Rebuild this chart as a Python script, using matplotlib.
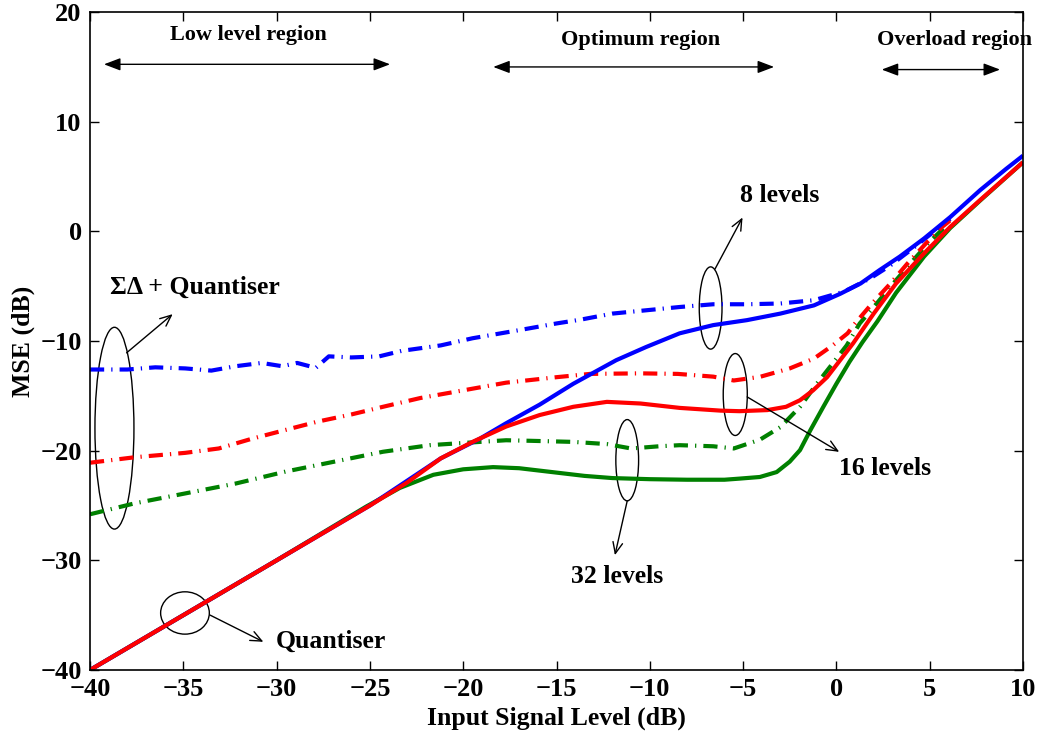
import matplotlib
matplotlib.use("Agg")
import matplotlib.pyplot as plt
from matplotlib.patches import Ellipse

plt.rcParams['font.family'] = ['Liberation Serif', 'DejaVu Serif']
plt.rcParams['font.weight'] = 'bold'

# Quantiser alone (solid lines)
q8_x = [-40, -30, -25, -21.2, -19.1, -17.7, -15.9, -14.1, -11.8, -10.2, -8.4, -6.6, -4.8,
        -3.0, -1.2, 0.2, 1.3, 2.3, 3.4, 4.7, 6.1, 7.7, 9.1, 10]
q8_y = [-40, -30, -25, -20.7, -18.9, -17.5, -15.8, -13.9, -11.75, -10.55, -9.3, -8.55, -8.1,
        -7.5, -6.75, -5.7, -4.75, -3.55, -2.3, -0.65, 1.3, 3.75, 5.7, 6.9]

q16_x = [-40, -30, -25, -23, -21.2, -19.5, -17.7, -15.9, -14.1, -12.3, -10.5, -8.4, -6.2,
         -5.2, -3.7, -2.7, -1.95, -1.25, -0.5, 0.2, 0.9, 2.0, 3.2, 4.7, 6.1, 7.7, 9.1, 10]
q16_y = [-40, -30, -25, -22.9, -20.7, -19.2, -17.8, -16.75, -16.0, -15.55, -15.7, -16.1, -16.35,
         -16.4, -16.3, -16.0, -15.4, -14.5, -13.3, -11.75, -10.2, -7.5, -4.75, -2.0, 0.4, 2.85,
         4.95, 6.3]

q32_x = [-40, -30, -25.2, -23.4, -21.6, -20.0, -18.4, -17.0, -15.5, -13.5, -12.0, -10.0, -8.0,
         -6.0, -5.2, -4.1, -3.2, -2.5, -1.95, -1.4, -0.7, 0.0, 0.7, 1.4, 2.2, 3.2, 4.7, 6.1,
         7.7, 10]
q32_y = [-40, -30, -25.1, -23.4, -22.2, -21.7, -21.5, -21.6, -21.9, -22.3, -22.5, -22.6, -22.65,
         -22.65, -22.55, -22.4, -21.95, -21.0, -19.95, -18.15, -16.0, -13.9, -11.9, -10.1, -8.2,
         -5.6, -2.3, 0.3, 2.8, 6.3]

# Sigma-delta + quantiser (dash-dot lines)
sd8_x = [-40, -38, -36.5, -34.9, -33.5, -32.2, -30.8, -29.7, -28.9, -27.9, -27.2, -26,
         -24.5, -23.3, -21.2, -19.5, -16.8, -15.0, -13.7, -12.0, -10.2, -8.4, -6.6, -4.8,
         -3.0, -1.2, 0.4, 1.8, 2.9, 4.1, 5.2, 6.1]
sd8_y = [-12.6, -12.6, -12.4, -12.5, -12.7, -12.3, -12.0, -12.3, -12.0, -12.45, -11.4, -11.5,
         -11.4, -10.9, -10.4, -9.75, -8.95, -8.4, -8.05, -7.5, -7.2, -6.9, -6.65, -6.65,
         -6.58, -6.28, -5.5, -4.3, -3.1, -1.55, -0.05, 1.15]

sd16_x = [-40, -37.6, -34.9, -33.1, -31.3, -29.5, -27.8, -26.0, -24.3, -22.3, -20.0, -17.7,
          -15.0, -13.2, -10.5, -8.5, -6.6, -5.5, -4.1, -2.5, -1.2, -0.2, 0.6, 1.0, 1.9, 2.9,
          3.8, 4.8, 5.7, 6.1]
sd16_y = [-21.1, -20.6, -20.2, -19.8, -18.9, -18.1, -17.35, -16.7, -16.0, -15.2, -14.5, -13.8,
          -13.3, -13.0, -12.95, -13.0, -13.25, -13.6, -13.27, -12.5, -11.6, -10.4, -9.3, -8.4,
          -6.6, -4.75, -2.95, -1.1, 0.45, 1.0]

sd32_x = [-40, -37.6, -34.9, -32.2, -29.5, -26.9, -24.3, -21.8, -19.1, -17.7, -16.4, -14.1,
          -12.3, -11.0, -9.5, -8.4, -6.6, -5.5, -4.1, -3.0, -1.95, -1.05, -0.2, 0.55, 1.25,
          2.15, 3.05, 3.95, 5.0, 6.0]
sd32_y = [-25.8, -24.8, -23.9, -23.0, -21.9, -21.0, -20.1, -19.5, -19.2, -19.05, -19.1, -19.2,
          -19.4, -19.8, -19.6, -19.5, -19.6, -19.8, -19.0, -17.85, -16.0, -13.9, -12.05, -10.4,
          -8.4, -6.6, -4.75, -2.95, -0.95, 0.7]

x_ticks = [-40, -35, -30, -25, -20, -15, -10, -5, 0, 5, 10]
y_ticks = [-40, -30, -20, -10, 0, 10, 20]

BLUE, RED, GREEN = '#0000ff', '#ff0000', '#008000'
LW = 3.0
DASHDOT = (0, (3.4, 1.7, 0.3, 1.7))

fig = plt.figure(figsize=(10.45, 7.36), dpi=100)
ax = fig.add_axes([90 / 1045, 66 / 736, 933 / 1045, 658 / 736])

ax.plot(sd8_x, sd8_y, color=BLUE, lw=LW, linestyle=DASHDOT, dash_capstyle='butt')
ax.plot(sd32_x, sd32_y, color=GREEN, lw=LW, linestyle=DASHDOT, dash_capstyle='butt')
ax.plot(sd16_x, sd16_y, color=RED, lw=LW, linestyle=DASHDOT, dash_capstyle='butt')
ax.plot(q32_x, q32_y, color=GREEN, lw=LW, solid_capstyle='butt', solid_joinstyle='round')
ax.plot(q8_x, q8_y, color=BLUE, lw=LW, solid_capstyle='butt', solid_joinstyle='round')
ax.plot(q16_x, q16_y, color=RED, lw=LW, solid_capstyle='butt', solid_joinstyle='round')

ax.set_xlim(-40, 10)
ax.set_ylim(-40, 20)
ax.set_xticks(x_ticks)
ax.set_yticks(y_ticks)
ax.tick_params(direction='in', top=True, right=True, length=6.5, width=1.0,
               labelsize=19, pad=6)
for lab in ax.get_xticklabels() + ax.get_yticklabels():
    lab.set_fontweight('bold')
for sp in ax.spines.values():
    sp.set_linewidth(1.2)

ax.set_xlabel('Input Signal Level (dB)', fontsize=18.5, fontweight='bold', labelpad=4)
ax.set_ylabel('MSE (dB)', fontsize=18.5, fontweight='bold', labelpad=4)

# Region markers along the top
region_fs = 16
ax.text(-31.53, 17.88, 'Low level region', ha='center', va='center', fontsize=region_fs)
ax.text(-10.49, 17.42, 'Optimum region', ha='center', va='center', fontsize=region_fs)
ax.text(6.31, 17.42, 'Overload region', ha='center', va='center', fontsize=region_fs)

dbl = dict(arrowstyle='<|-|>,head_length=1.0,head_width=0.38', color='black', lw=1.0,
           shrinkA=0, shrinkB=0)
ax.annotate('', xy=(-23.92, 15.23), xytext=(-39.25, 15.23), arrowprops=dbl)
ax.annotate('', xy=(-3.34, 14.99), xytext=(-18.39, 14.99), arrowprops=dbl)
ax.annotate('', xy=(8.77, 14.75), xytext=(2.43, 14.75), arrowprops=dbl)

# Curve group labels with ellipses and pointers
label_fs = 18.5
ellipses = [
    (-38.69, -17.95, 2.09, 18.4),
    (-34.91, -34.80, 2.61, 3.86),
    (-6.74, -6.99, 1.22, 7.5),
    (-11.21, -20.87, 1.22, 7.41),
    (-5.42, -14.88, 1.29, 7.47),
]
for cx, cy, w, h in ellipses:
    ax.add_patch(Ellipse((cx, cy), w, h, fill=False, edgecolor='black', lw=1.0))

ptr = dict(arrowstyle='->,head_length=0.8,head_width=0.35', color='black', lw=1.0,
           shrinkA=0, shrinkB=0)
ax.annotate('', xy=(-35.57, -7.55), xytext=(-38.04, -11.08), arrowprops=ptr)
ax.annotate('', xy=(-30.71, -37.43), xytext=(-33.57, -34.99), arrowprops=ptr)
ax.annotate('', xy=(-5.03, 1.26), xytext=(-6.51, -3.45), arrowprops=ptr)
ax.annotate('', xy=(-11.87, -29.53), xytext=(-11.21, -24.58), arrowprops=ptr)
ax.annotate('', xy=(0.15, -20.11), xytext=(-4.78, -15.1), arrowprops=ptr)

ax.text(-34.37, -5.1, 'ΣΔ + Quantiser', ha='center', va='center', fontsize=label_fs)
ax.text(-27.08, -37.34, 'Quantiser', ha='center', va='center', fontsize=label_fs)
ax.text(-3.02, 3.29, '8 levels', ha='center', va='center', fontsize=label_fs)
ax.text(-11.77, -31.5, '32 levels', ha='center', va='center', fontsize=label_fs)
ax.text(2.63, -21.62, '16 levels', ha='center', va='center', fontsize=label_fs)

fig.savefig('out.png', dpi=100)
